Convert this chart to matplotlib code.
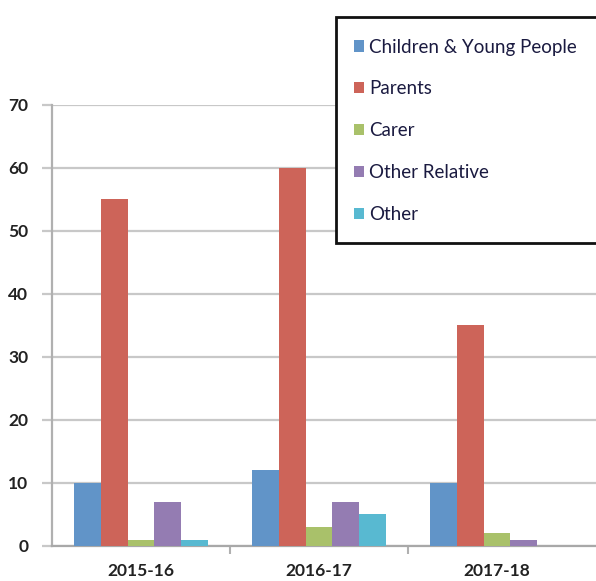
import matplotlib
matplotlib.use("Agg")
import matplotlib.pyplot as plt
import numpy as np
from matplotlib.patches import Patch, Rectangle

categories = ["2015-16", "2016-17", "2017-18"]
series_names = ["Children & Young People", "Parents", "Carer", "Other Relative", "Other"]
children = [10, 12, 10]
parents = [55, 60, 35]
carer = [1, 3, 2]
other_relative = [7, 7, 1]
other = [1, 5, 0]
colors = ["#6194c8", "#cd6459", "#a9c16a", "#947cb2", "#58b9d1"]

plt.rcParams['font.family'] = ['Lato', 'DejaVu Sans']

fig = plt.figure(figsize=(5.96, 5.81), dpi=100)
W, H = 596, 581
left, right, bottom, top = 52, 596, 546, 104.5
ax = fig.add_axes([left / W, 1 - bottom / H, (right - left) / W, (bottom - top) / H])

values = [children, parents, carer, other_relative, other]
x = np.arange(len(categories))
n = len(values)
group_w = 0.75
bw = group_w / n
for i, (vals, c) in enumerate(zip(values, colors)):
    ax.bar(x - group_w / 2 + bw * (i + 0.5), vals, width=bw, color=c, zorder=3, linewidth=0)

ax.set_ylim(0, 70)
ax.set_xlim(-0.5, 2.556)
ax.set_yticks(range(0, 71, 10))
ax.yaxis.grid(True, color="#c8c8c8", linewidth=1.6, zorder=0)
ax.set_xticks(x)
ax.set_xticklabels(categories, fontsize=12.5, fontweight='bold', color="#222222")
ax.set_xticks([0.5, 1.5], minor=True)
ax.tick_params(axis='x', which='major', length=0, pad=12)
ax.tick_params(axis='x', which='minor', length=6, width=1.5, color="#b0b0b0")
ax.tick_params(axis='y', length=7, width=1.6, color="#c8c8c8", labelsize=12.5, pad=10, labelcolor="#222222")
for lab in ax.get_yticklabels():
    lab.set_fontweight('bold')
for s in ["top", "right"]:
    ax.spines[s].set_visible(False)
ax.spines["left"].set_color("#b0b0b0")
ax.spines["left"].set_linewidth(1.6)
ax.spines["bottom"].set_color("#a8a8a8")
ax.spines["bottom"].set_linewidth(1.6)

# legend frame
fig.patches.append(Rectangle((336 / W, 1 - 243 / H), (600 - 336) / W, (243 - 17) / H,
                             transform=fig.transFigure, fill=True, facecolor='white',
                             edgecolor="#111111", linewidth=2, zorder=5))

handles = [Patch(facecolor=c, edgecolor='none') for c in colors]
leg = fig.legend(handles, series_names, loc='upper left',
                 bbox_to_anchor=(354 / W, 1 - 38.5 / H), fontsize=13.5,
                 frameon=False, handlelength=0.55, handleheight=0.55,
                 handletextpad=0.25, labelspacing=1.33, borderpad=0, borderaxespad=0)
leg.set_zorder(6)
for t in leg.get_texts():
    t.set_color("#1a1a40")

fig.savefig("out.png", dpi=100)
